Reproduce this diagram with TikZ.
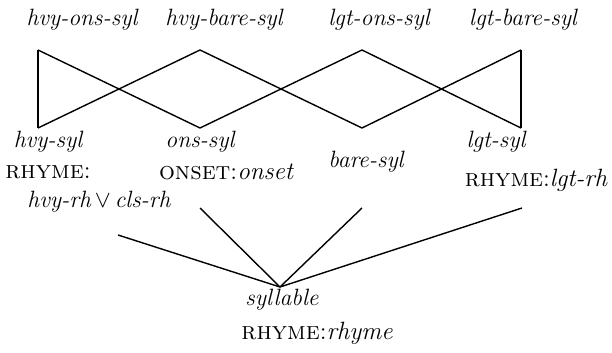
\documentclass[tikz,border=0pt]{standalone}
\usepackage{amsmath}
\usepackage{amsmath, amssymb}
\usepackage{fontspec}
\newcommand{\weit}{\addfontfeature{LetterSpace=4,FakeBold=1.2}}

\begin{document}
\begin{tikzpicture}[x=0.5pt,y=-0.5pt,
		typ/.style={font=\fontsize{11.8}{14}\selectfont\itshape\weit, inner sep=0pt},
		merkmal/.style={font=\fontsize{12.5}{15}\selectfont\addfontfeature{FakeBold=0.6}, inner sep=0pt},
		linie/.style={line width=0.7pt}]
		\useasboundingbox (0,0) rectangle (612,353);
		% Typen oben
		\node[typ] (hvyons) at (82,20) {hvy-ons-syl};
		\node[typ] (hvybare) at (224,20) {hvy-bare-syl};
		\node[typ] (lgtons) at (379,20) {lgt-ons-syl};
		\node[typ] (lgtbare) at (523,20) {lgt-bare-syl};
		
		% Ecken oben und unten
		\coordinate (hvyonsE) at (38,50);
		\coordinate (hvybareE) at (200,50);
		\coordinate (lgtonsE) at (362,50);
		\coordinate (lgtbareE) at (521,50);
		\coordinate (hvyE) at (38,128);
		\coordinate (onsE) at (200,128);
		\coordinate (bareE) at (362,128);
		\coordinate (lgtE) at (521,128);
		
		% Verband
		\draw[linie] (hvyonsE) -- (hvyE);
		\draw[linie] (hvyonsE) -- (onsE);
		\draw[linie] (hvybareE) -- (hvyE);
		\draw[linie] (hvybareE) -- (bareE);
		\draw[linie] (lgtonsE) -- (onsE);
		\draw[linie] (lgtonsE) -- (lgtE);
		\draw[linie] (lgtbareE) -- (bareE);
		\draw[linie] (lgtbareE) -- (lgtE);
		
		% Typen Mitte
		\node[typ] (hvy) at (48,142) {hvy-syl};
		\node[merkmal] (hvyrh) at (48,172) {\textsc{rhyme}:};
		\node[typ] (hvyor) at (99,202) {hvy-rh\,$\vee$\,cls-rh};
		\node[typ] (ons) at (200,142) {ons-syl};
		\node[merkmal] (onsrh) at (226,172) {\textsc{onset}:{\itshape\weit onset}};
		\node[typ] (bare) at (366,162) {bare-syl};
		\node[typ] (lgt) at (496,142) {lgt-syl};
		\node[merkmal] (lgtrh) at (536,180) {\textsc{rhyme}:{\itshape\weit lgt-rh}};
		
		% Enden der Linien
		\coordinate (hvyL) at (118,235);
		\coordinate (onsL) at (200,208);
		\coordinate (bareL) at (362,208);
		\coordinate (lgtL) at (522,208);
		\coordinate (sylL) at (280,287);
		
		% Silbe unten
		\node[typ] (syl) at (282,300) {syllable};
		\node[merkmal] (sylrh) at (317,333) {\textsc{rhyme}:{\itshape\weit rhyme}};
		
		\draw[linie] (hvyL) -- (sylL);
		\draw[linie] (onsL) -- (sylL);
		\draw[linie] (bareL) -- (sylL);
		\draw[linie] (lgtL) -- (sylL);
	\end{tikzpicture}
\end{document}
